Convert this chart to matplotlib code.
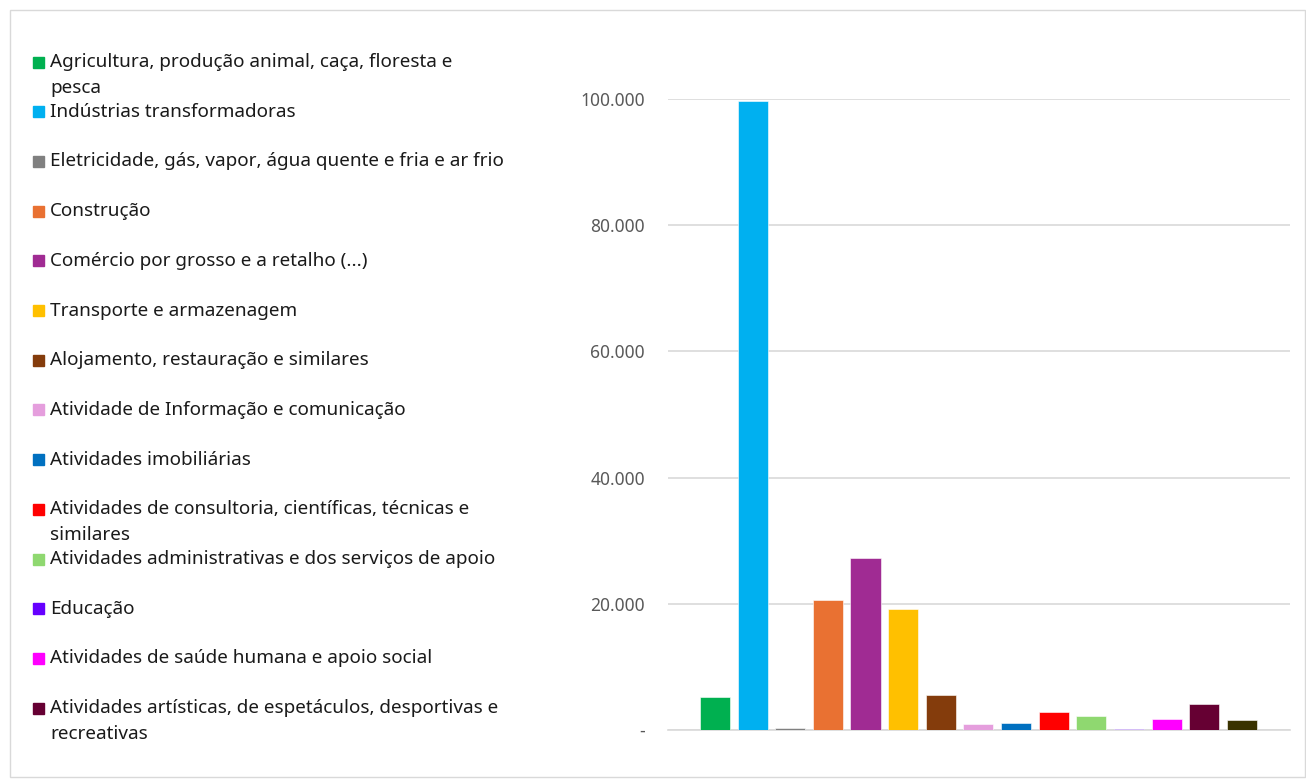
import matplotlib
matplotlib.use("Agg")
import matplotlib.pyplot as plt
from matplotlib.patches import Rectangle
from matplotlib.ticker import FuncFormatter

categories = [
    "Agricultura, produção animal, caça, floresta e\npesca",
    "Indústrias transformadoras",
    "Eletricidade, gás, vapor, água quente e fria e ar frio",
    "Construção",
    "Comércio por grosso e a retalho (...)",
    "Transporte e armazenagem",
    "Alojamento, restauração e similares",
    "Atividade de Informação e comunicação",
    "Atividades imobiliárias",
    "Atividades de consultoria, científicas, técnicas e\nsimilares",
    "Atividades administrativas e dos serviços de apoio",
    "Educação",
    "Atividades de saúde humana e apoio social",
    "Atividades artísticas, de espetáculos, desportivas e\nrecreativas",
    "Outras atividades de serviços",
]
values = [5200, 99700, 300, 20550, 27300, 19200, 5500, 1000, 1150,
          2800, 2270, 200, 1700, 4070, 1630]
colors = ["#00B050", "#00B0F0", "#808080", "#E97132", "#A02B93", "#FFC000",
          "#843C0C", "#E59EDD", "#0070C0", "#FF0000", "#8FD870", "#6600FF",
          "#FF00FF", "#660033", "#3A3300"]
legend_count = 14
yticks = [0, 20000, 40000, 60000, 80000, 100000]

W, H = 1306, 779
fig = plt.figure(figsize=(W / 100, H / 100), dpi=100)
plt.rcParams['font.family'] = ['Noto Sans', 'DejaVu Sans']

# outer border
fig.patches.append(Rectangle((10 / W, 0.002), 1 - 10 / W - 0.001, 1 - 10 / H - 0.002,
                             transform=fig.transFigure, fill=False,
                             edgecolor="#D9D9D9", linewidth=1))

ax = fig.add_axes([668 / W, 1 - 730 / H, (1290 - 668) / W, (730 - 99) / H])
x = list(range(len(values)))
ax.bar(x, values, width=0.8, color=colors, edgecolor="white", linewidth=0.4, zorder=3)
ax.set_xlim(-1.25, len(values) - 1 + 1.28)
ax.set_ylim(0, 100000)
ax.set_yticks(yticks)
ax.yaxis.set_major_formatter(FuncFormatter(
    lambda v, p: "-" if v == 0 else f"{int(v):,}".replace(",", ".")))
ax.tick_params(axis="y", length=0, pad=16.5, labelsize=12.5, labelcolor="#595959")
ax.set_xticks([])
ax.grid(axis="y", color="#D9D9D9", linewidth=1.2, zorder=0)
for s in ["top", "right", "left"]:
    ax.spines[s].set_visible(False)
ax.spines["bottom"].set_color("#D9D9D9")
ax.spines["bottom"].set_linewidth(1.2)

# legend (first entries)
for i in range(legend_count):
    yc = 62 + i * 49.7
    fig.patches.append(Rectangle((33 / W, 1 - (yc + 5.5) / H), 11 / W, 11 / H,
                                 transform=fig.transFigure, color=colors[i]))
    for j, line in enumerate(categories[i].split("\n")):
        fig.text(50 / W, 1 - (yc + j * 26) / H, line, ha="left", va="center",
                 fontsize=13.6, color="#1A1A1A")

fig.savefig("out.png", dpi=100)
